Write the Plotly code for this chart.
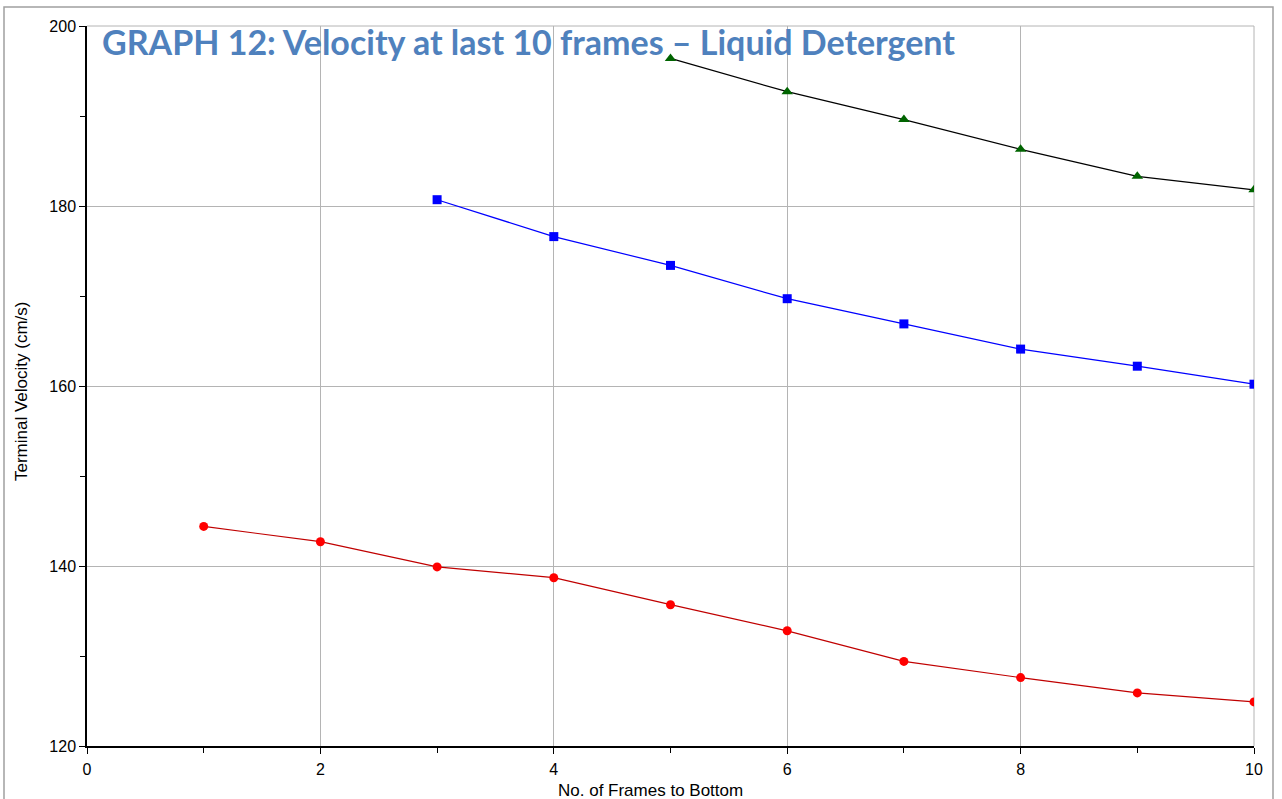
import plotly.graph_objects as go

red_x = [1, 2, 3, 4, 5, 6, 7, 8, 9, 10]
red_y = [144.4, 142.7, 139.9, 138.7, 135.7, 132.8, 129.4, 127.6, 125.9, 124.9]
blue_x = [3, 4, 5, 6, 7, 8, 9, 10]
blue_y = [180.7, 176.6, 173.4, 169.7, 166.9, 164.1, 162.2, 160.2]
green_x = [5, 6, 7, 8, 9, 10]
green_y = [196.4, 192.7, 189.6, 186.3, 183.3, 181.8]

title_text = "GRAPH 12: Velocity at last 10 frames \u2013 Liquid Detergent"
x_title = "No. of Frames to Bottom"
y_title = "Terminal Velocity (cm/s)"

fig = go.Figure()
fig.add_trace(go.Scatter(x=red_x, y=red_y, mode="lines+markers",
                         line=dict(color="#c00000", width=1.2),
                         marker=dict(symbol="circle", size=9, color="#ff0000")))
fig.add_trace(go.Scatter(x=blue_x, y=blue_y, mode="lines+markers",
                         line=dict(color="#0000ff", width=1.2),
                         marker=dict(symbol="square", size=9, color="#0000ff")))
fig.add_trace(go.Scatter(x=green_x, y=green_y, mode="lines+markers",
                         line=dict(color="#000000", width=1.2),
                         marker=dict(symbol="triangle-up", size=10, color="#006400")))

axis_font = dict(family="Liberation Sans, Arial", size=16, color="#000000")
title_font = dict(family="Liberation Sans, Arial", size=17, color="#000000")

L, R, T, B = 87, 28, 26, 53
PW, PH = 1282 - L - R, 799 - T - B


def px_x(p):
    return (p - L) / PW


def px_y(p):
    return (799 - B - p) / PH


fig.update_layout(
    width=1282, height=799,
    margin=dict(l=L, r=R, t=T, b=B, autoexpand=False),
    paper_bgcolor="white", plot_bgcolor="white",
    showlegend=False,
    xaxis=dict(range=[0, 10], dtick=2, tick0=0, showgrid=True, gridcolor="#b4b4b4", gridwidth=1,
               showline=True, linecolor="#000000", linewidth=1.5, ticks="outside", ticklen=6,
               tickcolor="#000000", tickfont=axis_font, zeroline=False, automargin=False,
               ticklabelstandoff=2,
               minor=dict(dtick=1, tick0=0, ticks="outside", ticklen=5, tickcolor="#000000", showgrid=False)),
    yaxis=dict(range=[120, 200], dtick=20, tick0=120, showgrid=True, gridcolor="#b4b4b4", gridwidth=1,
               showline=True, linecolor="#000000", linewidth=1.5, ticks="outside", ticklen=6,
               tickcolor="#000000", tickfont=axis_font, zeroline=False, automargin=False,
               minor=dict(dtick=10, tick0=120, ticks="outside", ticklen=5, tickcolor="#000000", showgrid=False)),
    annotations=[
        dict(text="<b>" + title_text + "</b>", xref="paper", yref="paper",
             x=px_x(100), y=px_y(41), xanchor="left", yanchor="middle", showarrow=False,
             font=dict(family="Lato, Open Sans", size=34, color="#4f81bd")),
        dict(text=x_title, xref="paper", yref="paper", x=px_x(650), y=px_y(790),
             xanchor="center", yanchor="middle", showarrow=False, font=title_font),
        dict(text=y_title, xref="paper", yref="paper", x=px_x(21), y=px_y(392),
             xanchor="center", yanchor="middle", showarrow=False, textangle=-90, font=title_font),
    ],
    shapes=[
        dict(type="line", xref="paper", yref="paper", x0=0, x1=1, y0=1, y1=1,
             line=dict(color="#b4b4b4", width=1), layer="below"),
        dict(type="line", xref="paper", yref="paper", x0=1, x1=1, y0=0, y1=1,
             line=dict(color="#b4b4b4", width=1), layer="below"),
        dict(type="rect", xref="paper", yref="paper",
             x0=px_x(4), x1=px_x(1273), y0=px_y(810), y1=px_y(7),
             line=dict(color="#a0a0a0", width=1.5), fillcolor="rgba(0,0,0,0)", layer="below"),
    ],
)

fig.write_html("out.html")
